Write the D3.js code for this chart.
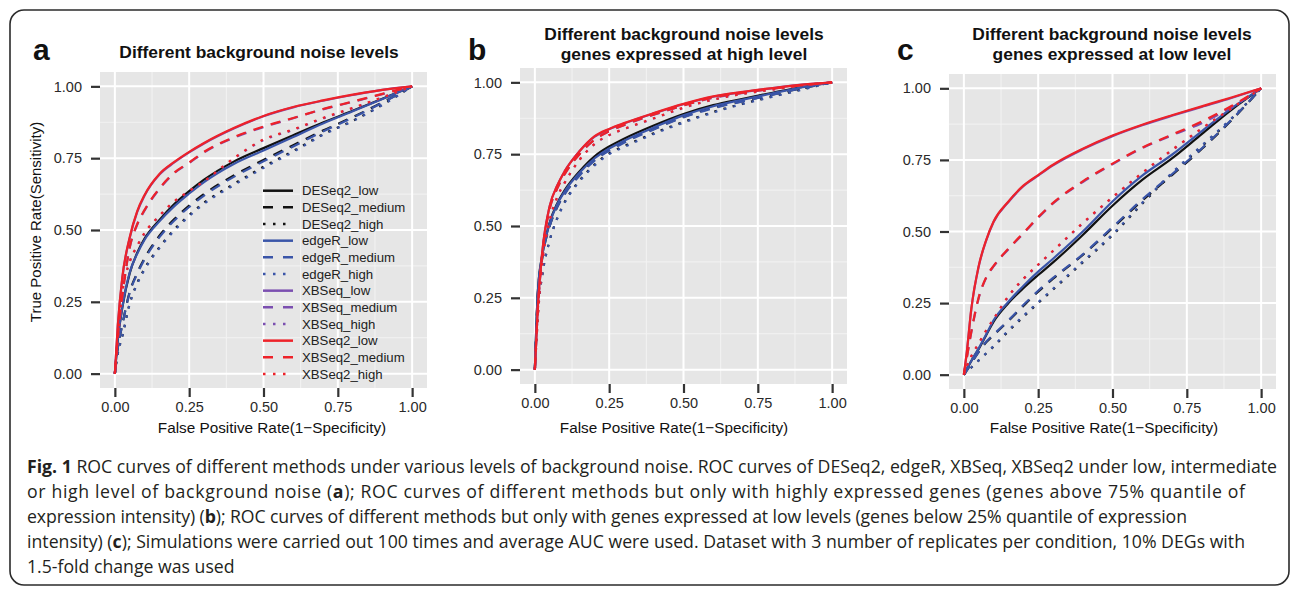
<!DOCTYPE html>
<html lang="en">
<head>
  <meta charset="UTF-8">
  <title>ROC curves</title>
  <script src="https://d3js.org/d3.v7.min.js"></script>
  <style>
    body { margin: 0; background: #fff; }
    svg text { font-family: "Liberation Sans", Arial, sans-serif; }
    .caption text { font-family: "Open Sans", sans-serif; fill: #231f20; }
  </style>
</head>
<body>
  <svg id="fig" width="1293" height="590"></svg>

  <script>
    // common false positive rate grid the curves were read at
    const fpr = [0, 0.01, 0.025, 0.05, 0.075, 0.1, 0.15, 0.2, 0.25, 0.3, 0.4, 0.5, 0.6, 0.7, 0.8, 0.9, 1];
    const tickValues = [0, 0.25, 0.5, 0.75, 1];
    const minorValues = [0.125, 0.375, 0.625, 0.875];

    const methods = ["DESeq2", "edgeR", "XBSeq", "XBSeq2"];
    const levels = ["low", "medium", "high"];
    const methodColors = ["#111111", "#3A55A8", "#7B4FB0", "#EE2229"];
    const levelDash = [null, "10,8", "2.5,7"];

    // panel a: all genes
    const aDESeq2Low  = [0, .12, .23, .35, .42, .47, .535, .59, .635, .675, .738, .785, .83, .874, .915, .957, 1];
    const aDESeq2Med  = [0, .09, .17, .285, .35, .402, .48, .538, .585, .625, .69, .744, .795, .846, .893, .944, 1];
    const aDESeq2High = [0, .07, .13, .245, .315, .366, .44, .502, .552, .595, .66, .72, .775, .833, .88, .936, 1];
    const aEdgeRLow   = [0, .12, .23, .352, .417, .466, .53, .583, .627, .667, .73, .777, .824, .871, .913, .956, 1];
    const aEdgeRMed   = [0, .09, .17, .282, .347, .398, .475, .533, .58, .62, .685, .739, .791, .843, .891, .943, 1];
    const aEdgeRHigh  = [0, .07, .13, .242, .312, .362, .437, .498, .548, .591, .656, .716, .772, .831, .879, .935, 1];
    const aXBSeqLow   = [0, .168, .332, .472, .562, .62, .693, .735, .77, .801, .853, .896, .927, .95, .97, .988, 1];
    const aXBSeqMed   = [0, .128, .268, .438, .518, .568, .643, .698, .733, .77, .821, .858, .889, .92, .946, .973, 1];
    const aXBSeqHigh  = [0, .118, .278, .388, .443, .488, .548, .598, .634, .668, .748, .813, .848, .888, .924, .961, 1];
    const aXBSeq2Low  = [0, .17, .335, .475, .565, .622, .695, .737, .772, .803, .855, .897, .928, .951, .971, .988, 1];
    const aXBSeq2Med  = [0, .13, .27, .44, .52, .57, .645, .70, .735, .772, .823, .86, .89, .921, .947, .974, 1];
    const aXBSeq2High = [0, .12, .28, .39, .445, .49, .55, .60, .636, .67, .75, .815, .85, .89, .925, .962, 1];

    // panel b: highly expressed genes
    const bDESeq2Low  = [0, .27, .40, .512, .578, .624, .69, .742, .777, .804, .85, .89, .921, .943, .964, .984, 1];
    const bDESeq2Med  = [0, .26, .39, .50, .566, .612, .678, .73, .765, .793, .838, .88, .912, .935, .958, .98, 1];
    const bDESeq2High = [0, .20, .33, .45, .527, .583, .658, .713, .753, .778, .823, .862, .897, .926, .951, .976, 1];
    const bEdgeRLow   = [0, .27, .40, .51, .575, .62, .685, .735, .77, .797, .843, .885, .917, .94, .962, .983, 1];
    const bEdgeRMed   = [0, .26, .39, .50, .565, .61, .675, .727, .762, .79, .836, .878, .91, .934, .957, .98, 1];
    const bEdgeRHigh  = [0, .20, .33, .45, .525, .58, .655, .71, .75, .775, .82, .86, .895, .925, .95, .975, 1];
    const bXBSeqLow   = [0, .22, .41, .57, .64, .69, .76, .81, .837, .857, .892, .924, .95, .966, .98, .992, 1];
    const bXBSeqMed   = [0, .21, .40, .56, .63, .68, .75, .80, .83, .851, .887, .92, .946, .963, .978, .99, 1];
    const bXBSeqHigh  = [0, .18, .37, .52, .60, .65, .73, .784, .816, .837, .874, .911, .94, .96, .975, .99, 1];
    const bXBSeq2Low  = [0, .22, .41, .57, .64, .69, .76, .812, .838, .858, .893, .925, .951, .967, .98, .992, 1];
    const bXBSeq2Med  = [0, .21, .40, .56, .63, .68, .75, .80, .83, .852, .888, .92, .947, .964, .978, .99, 1];
    const bXBSeq2High = [0, .18, .37, .52, .60, .65, .73, .785, .817, .838, .875, .912, .94, .96, .975, .99, 1];

    // panel c: lowly expressed genes
    const cDESeq2Low  = [0, .02, .048, .09, .138, .185, .25, .302, .348, .392, .488, .59, .68, .755, .84, .925, 1];
    const cDESeq2Med  = [0, .015, .04, .08, .113, .138, .188, .24, .29, .335, .418, .512, .608, .697, .788, .888, 1];
    const cDESeq2High = [0, .01, .025, .05, .074, .098, .152, .202, .25, .297, .392, .487, .597, .702, .797, .893, 1];
    const cEdgeRLow   = [0, .02, .048, .092, .14, .19, .255, .31, .36, .405, .50, .605, .695, .768, .85, .93, 1];
    const cEdgeRMed   = [0, .015, .04, .08, .115, .14, .19, .243, .293, .338, .42, .515, .612, .70, .79, .89, 1];
    const cEdgeRHigh  = [0, .01, .025, .05, .075, .10, .155, .205, .253, .30, .395, .49, .60, .705, .80, .895, 1];
    const cXBSeqLow   = [0, .08, .228, .378, .468, .533, .603, .658, .695, .731, .787, .833, .871, .904, .935, .966, 1];
    const cXBSeqMed   = [0, .06, .148, .268, .338, .378, .438, .493, .548, .598, .673, .735, .791, .836, .878, .934, 1];
    const cXBSeqHigh  = [0, .03, .064, .108, .153, .193, .273, .333, .383, .431, .528, .618, .703, .783, .858, .929, 1];
    const cXBSeq2Low  = [0, .08, .23, .38, .47, .535, .605, .66, .697, .733, .789, .835, .873, .906, .937, .968, 1];
    const cXBSeq2Med  = [0, .06, .15, .27, .34, .38, .44, .495, .55, .60, .675, .737, .793, .838, .884, .938, 1];
    const cXBSeq2High = [0, .03, .065, .11, .155, .195, .275, .335, .385, .433, .53, .62, .705, .785, .86, .93, 1];

    const captionLines = [
      [["Fig. 1", true], [" ROC curves of different methods under various levels of background noise. ROC curves of DESeq2, edgeR, XBSeq, XBSeq2 under low, intermediate", false]],
      [["or high level of background noise (", false], ["a", true], ["); ROC curves of different methods but only with highly expressed genes (genes above 75% quantile of", false]],
      [["expression intensity) (", false], ["b", true], ["); ROC curves of different methods but only with genes expressed at low levels (genes below 25% quantile of expression", false]],
      [["intensity) (", false], ["c", true], ["); Simulations were carried out 100 times and average AUC were used. Dataset with 3 number of replicates per condition, 10% DEGs with", false]],
      [["1.5-fold change was used", false]]
    ];
    // printed widths of the caption lines (last line left natural)
    const captionWidths = [1250, 1218, 1160, 1218, null];

    const panels = [
      {
        letter: "a", letterX: 33, title: ["Different background noise levels"], titleX: 259, titleY: [58],
        left: 100, top: 72, width: 327, height: 316, yTitle: true, legend: true, xTitleX: 272,
        series: [aDESeq2Low, aDESeq2Med, aDESeq2High, aEdgeRLow, aEdgeRMed, aEdgeRHigh,
                 aXBSeqLow, aXBSeqMed, aXBSeqHigh, aXBSeq2Low, aXBSeq2Med, aXBSeq2High]
      },
      {
        letter: "b", letterX: 468, title: ["Different background noise levels", "genes expressed at high level"], titleX: 684, titleY: [39.5, 60],
        left: 520, top: 68, width: 327, height: 316, yTitle: false, legend: false, xTitleX: 674,
        series: [bDESeq2Low, bDESeq2Med, bDESeq2High, bEdgeRLow, bEdgeRMed, bEdgeRHigh,
                 bXBSeqLow, bXBSeqMed, bXBSeqHigh, bXBSeq2Low, bXBSeq2Med, bXBSeq2High]
      },
      {
        letter: "c", letterX: 897, title: ["Different background noise levels", "genes expressed at low level"], titleX: 1112, titleY: [39.5, 60],
        left: 949, top: 74, width: 327, height: 315, yTitle: false, legend: false, xTitleX: 1104,
        series: [cDESeq2Low, cDESeq2Med, cDESeq2High, cEdgeRLow, cEdgeRMed, cEdgeRHigh,
                 cXBSeqLow, cXBSeqMed, cXBSeqHigh, cXBSeq2Low, cXBSeq2Med, cXBSeq2High]
      }
    ];

    const svg = d3.select("#fig");

    // outer frame
    svg.append("rect")
      .attr("x", 10).attr("y", 10)
      .attr("width", 1279).attr("height", 575)
      .attr("rx", 14)
      .attr("fill", "none")
      .attr("stroke", "#2b2b2b")
      .attr("stroke-width", 1.6);

    function drawPanel(p) {
      const g = svg.append("g");
      const x = d3.scaleLinear().domain([-0.05, 1.05]).range([p.left, p.left + p.width]);
      const y = d3.scaleLinear().domain([-0.05, 1.05]).range([p.top + p.height, p.top]);

      g.append("rect")
        .attr("x", x(-0.05)).attr("y", y(1.05))
        .attr("width", x(1.05) - x(-0.05)).attr("height", y(-0.05) - y(1.05))
        .attr("fill", "#e6e6e6");

      // minor grid
      g.selectAll(".minor-v").data(minorValues).enter().append("line")
        .attr("x1", d => x(d)).attr("x2", d => x(d))
        .attr("y1", y(-0.05)).attr("y2", y(1.05))
        .attr("stroke", "#f3f3f3").attr("stroke-width", 1);
      g.selectAll(".minor-h").data(minorValues).enter().append("line")
        .attr("y1", d => y(d)).attr("y2", d => y(d))
        .attr("x1", x(-0.05)).attr("x2", x(1.05))
        .attr("stroke", "#f3f3f3").attr("stroke-width", 1);

      // major grid
      g.selectAll(".major-v").data(tickValues).enter().append("line")
        .attr("x1", d => x(d)).attr("x2", d => x(d))
        .attr("y1", y(-0.05)).attr("y2", y(1.05))
        .attr("stroke", "#fff").attr("stroke-width", 2);
      g.selectAll(".major-h").data(tickValues).enter().append("line")
        .attr("y1", d => y(d)).attr("y2", d => y(d))
        .attr("x1", x(-0.05)).attr("x2", x(1.05))
        .attr("stroke", "#fff").attr("stroke-width", 2);

      // curves
      const line = d3.line()
        .x((d, i) => x(fpr[i]))
        .y(d => y(d))
        .curve(d3.curveMonotoneX);

      p.series.forEach((vals, k) => {
        const m = Math.floor(k / 3), lv = k % 3;
        g.append("path")
          .datum(vals)
          .attr("d", line)
          .attr("fill", "none")
          .attr("stroke", methodColors[m])
          .attr("stroke-width", 2.2)
          .attr("stroke-dasharray", levelDash[lv]);
      });

      // axes
      const yAxis = g.append("g")
        .attr("transform", `translate(${p.left},0)`)
        .call(d3.axisLeft(y).tickValues(tickValues).tickFormat(d3.format(".2f")).tickSize(9).tickPadding(9));
      const xAxis = g.append("g")
        .attr("transform", `translate(0,${p.top + p.height})`)
        .call(d3.axisBottom(x).tickValues(tickValues).tickFormat(d3.format(".2f")).tickSize(9).tickPadding(5));
      [yAxis, xAxis].forEach(ax => {
        ax.select(".domain").remove();
        ax.selectAll(".tick line").attr("stroke", "#333").attr("stroke-width", 2.2);
        ax.selectAll(".tick text")
          .attr("fill", "#2a2a2a")
          .style("font-size", "14.5px")
          .style("font-family", "'Liberation Sans', Arial, sans-serif");
      });

      g.append("text")
        .attr("x", p.xTitleX).attr("y", 433)
        .attr("text-anchor", "middle")
        .attr("font-size", 15.3).attr("fill", "#111")
        .text("False Positive Rate(1\u2212Specificity)");

      if (p.yTitle) {
        g.append("text")
          .attr("transform", `translate(41,222) rotate(-90)`)
          .attr("text-anchor", "middle")
          .attr("font-size", 15).attr("fill", "#111")
          .text("True Positive Rate(Sensitivity)");
      }

      // titles
      p.title.forEach((t, i) => {
        g.append("text")
          .attr("x", p.titleX).attr("y", p.titleY[i])
          .attr("text-anchor", "middle")
          .attr("font-size", 17.4).attr("font-weight", "bold").attr("fill", "#111")
          .text(t);
      });
      g.append("text")
        .attr("x", p.letterX).attr("y", 60)
        .attr("font-size", 30).attr("font-weight", "bold").attr("fill", "#111")
        .text(p.letter);

      if (p.legend) {
        const items = [];
        methods.forEach((m, mi) => levels.forEach((l, li) => items.push({ name: `${m}_${l}`, mi, li })));
        const leg = g.selectAll(".leg").data(items).enter().append("g")
          .attr("transform", (d, i) => `translate(263,${190.7 + i * 16.66})`);
        leg.append("line")
          .attr("x1", 0).attr("x2", 30)
          .attr("stroke", d => methodColors[d.mi])
          .attr("stroke-width", 2.5)
          .attr("stroke-dasharray", d => d.li === 1 ? "10,10" : d.li === 2 ? "2.5,7.5" : null);
        leg.append("text")
          .attr("x", 39).attr("dy", "0.35em")
          .attr("font-size", 13.2).attr("fill", "#222")
          .text(d => d.name);
      }
    }

    panels.forEach(drawPanel);

    // caption
    const cap = svg.append("g").attr("class", "caption");
    const capTexts = captionLines.map((parts, i) => {
      const t = cap.append("text")
        .attr("x", 27).attr("y", 473 + i * 25)
        .attr("font-size", 15);
      parts.forEach(([s, b]) => t.append("tspan").attr("font-weight", b ? 700 : 400).text(s));
      return t;
    });
    // font size taken from the first line's printed width
    const natural = capTexts[0].node().getComputedTextLength();
    const size = 15 * captionWidths[0] / natural;
    capTexts.forEach((t, i) => {
      t.attr("font-size", size);
      if (captionWidths[i]) t.attr("textLength", captionWidths[i]).attr("lengthAdjust", "spacing");
    });
  </script>
</body>
</html>
